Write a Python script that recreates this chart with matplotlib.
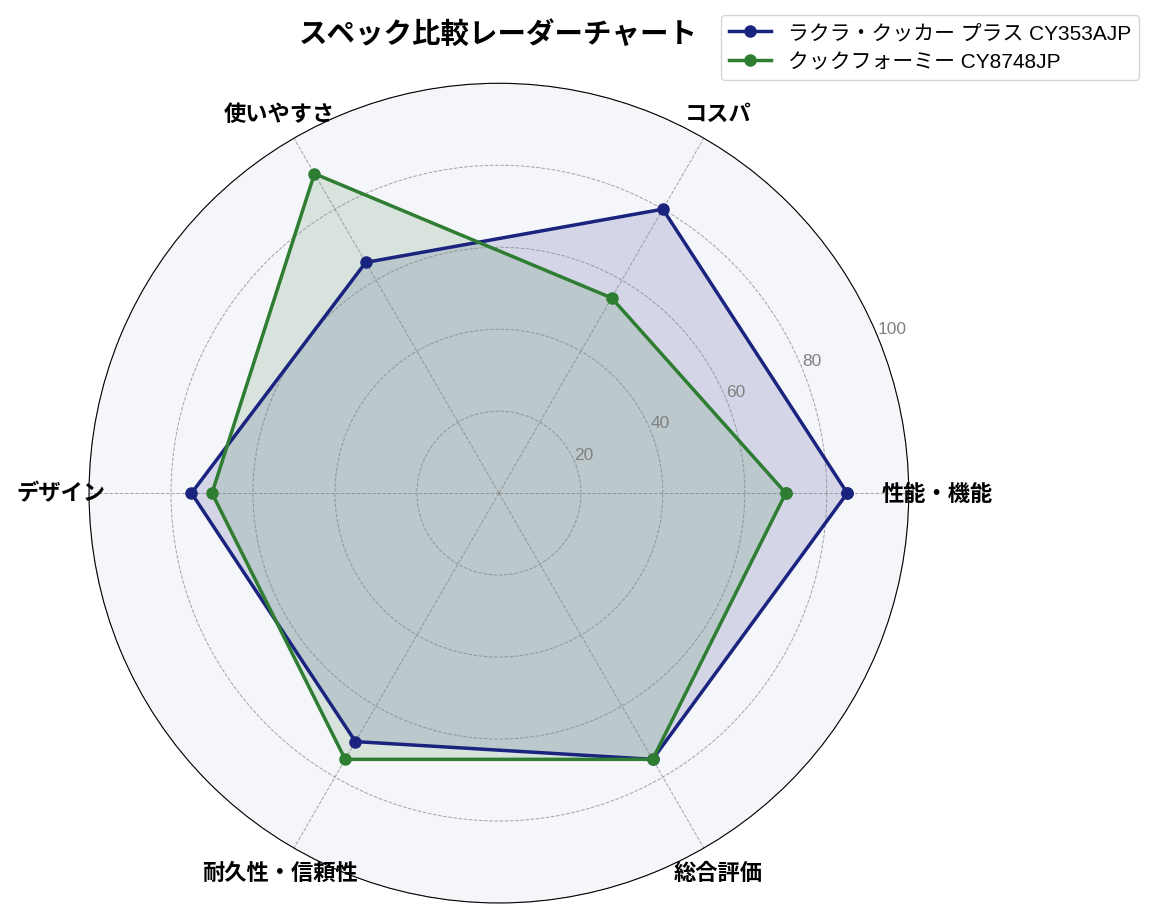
import numpy as np
import matplotlib
matplotlib.use('Agg')
import matplotlib.pyplot as plt

# latin glyphs from Liberation Sans, Japanese from Noto CJK
plt.rcParams['font.family'] = ['Liberation Sans', 'Noto Sans CJK JP', 'DejaVu Sans']

categories = ['性能・機能', 'コスパ', '使いやすさ', 'デザイン', '耐久性・信頼性', '総合評価']
series_names = ['ラクラ・クッカー プラス CY353AJP', 'クックフォーミー CY8748JP']
rakura = [85, 80, 65, 75, 70, 75]
cookforme = [70, 55, 90, 70, 75, 75]
colors = ['#1a237e', '#2e7d32']
r_ticks = [20, 40, 60, 80, 100]

n = len(categories)
angles = np.linspace(0, 2 * np.pi, n, endpoint=False).tolist()
angles_closed = angles + angles[:1]

fig = plt.figure(figsize=(11.59, 9.2), dpi=100)
ax = fig.add_axes([0.0767, 0.0174, 0.7075, 0.891], polar=True)
ax.set_facecolor('#f5f6fa')

for name, vals, c in zip(series_names, [rakura, cookforme], colors):
    v = vals + vals[:1]
    ax.plot(angles_closed, v, color=c, linewidth=2.5, marker='o', markersize=8, label=name)
    ax.fill(angles_closed, v, color=c, alpha=0.15)

ax.set_ylim(0, 100)
ax.set_yticks(r_ticks)
ax.set_yticklabels([str(t) for t in r_ticks], color='gray', fontsize=12.5)
ax.set_rlabel_position(22.5)
ax.set_xticks(angles)
ax.set_xticklabels(categories, fontsize=16, fontweight='bold',
                   family=['Noto Sans CJK JP', 'DejaVu Sans'])
ax.tick_params(axis='x', pad=10)
ax.grid(True, color='gray', linestyle='--', linewidth=0.7, alpha=0.7)
ax.spines['polar'].set_color('black')

fig.text(0.43, 0.962, 'スペック比較レーダーチャート', ha='center', va='center',
         fontsize=20.5, fontweight='bold', family=['Noto Sans CJK JP', 'DejaVu Sans'])
fig.legend(loc='upper right', bbox_to_anchor=(0.992, 0.994), fontsize=15)

fig.savefig('out.png', dpi=100)
